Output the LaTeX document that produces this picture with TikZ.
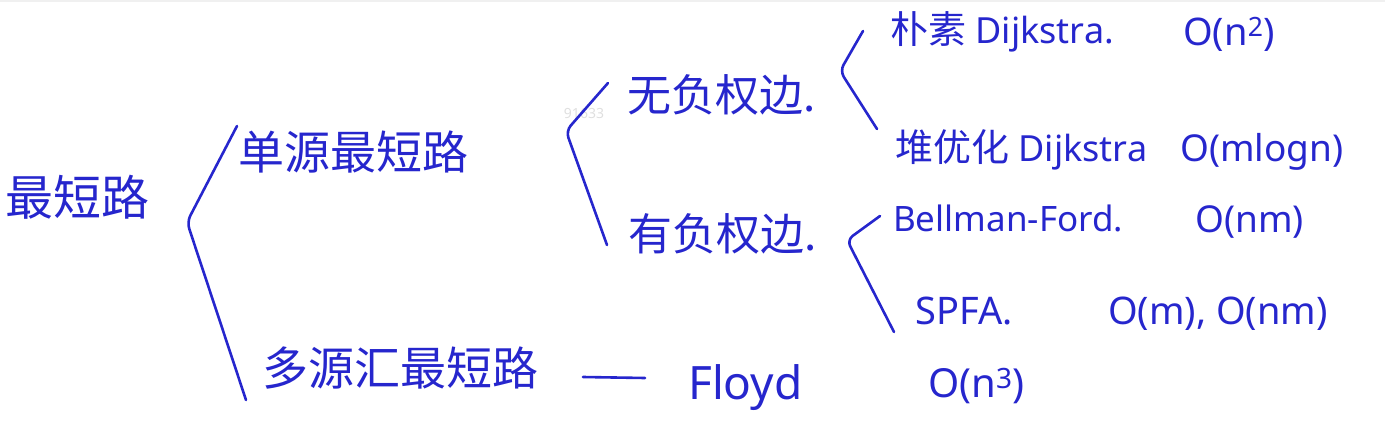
\documentclass[tikz,border=0pt]{standalone}
\usepackage{fontspec}
\setmainfont{Noto Sans}
\newfontfamily\cjk{Noto Sans CJK SC}
\definecolor{ink}{RGB}{38,38,205}
\begin{document}
\begin{tikzpicture}[x=1pt,y=-1pt,
  hand/.style={text=ink, inner sep=0pt, anchor=west},
  zh/.style={hand, font=\cjk\fontsize{46}{48}\selectfont},
  en/.style={hand, font=\fontsize{36}{38}\selectfont},
  brace/.style={draw=ink, line width=2.6pt, rounded corners=7pt, line cap=round},
  link/.style={draw=ink, line width=2.6pt, line cap=round}]
\useasboundingbox (0,0) rectangle (1385,439);
\fill[gray!12] (0,0) rectangle (1385,2);
\node[text=gray!25, font=\bfseries\fontsize{14}{14}\selectfont] (wm) at (584,114) {91633};
% texts
\node[zh, font=\cjk\fontsize{48}{50}\selectfont] (root) at (5,197) {最短路};
\node[zh] (single) at (238,152) {单源最短路};
\node[zh] (multi) at (262,368) {多源汇最短路};
\node[zh, font=\cjk\fontsize{44}{46}\selectfont] (noneg) at (627,95) {无负权边.};
\node[zh, font=\cjk\fontsize{44}{46}\selectfont] (neg) at (628,234) {有负权边.};
\node[en] (dij) at (890,32) {{\cjk\fontsize{38}{40}\selectfont 朴素} Dijkstra.};
\node[en, font=\fontsize{38}{40}\selectfont] (dijc) at (1183,34) {O(n\textsuperscript{2})};
\node[en] (hdij) at (895,150) {{\cjk\fontsize{38}{40}\selectfont 堆优化} Dijkstra};
\node[en, font=\fontsize{37}{39}\selectfont] (hdijc) at (1180,152) {O(mlogn)};
\node[en, font=\fontsize{35}{37}\selectfont] (bf) at (893,218) {Bellman-Ford.};
\node[en, font=\fontsize{37}{39}\selectfont] (bfc) at (1195,222) {O(nm)};
\node[en, font=\fontsize{38}{40}\selectfont] (spfa) at (915,311) {SPFA.};
\node[en, font=\fontsize{38}{40}\selectfont] (spfac) at (1108,314) {O(m), O(nm)};
\node[en, font=\fontsize{46}{48}\selectfont] (floyd) at (688,388) {Floyd};
\node[en, font=\fontsize{40}{42}\selectfont] (floydc) at (928,386) {O(n\textsuperscript{3})};
% brackets
\coordinate (b1t) at (237,126);
\coordinate (b1c) at (187,222);
\coordinate (b1b) at (246,400);
\draw[brace] (b1t) -- (b1c) -- (b1b);
\coordinate (b2t) at (608,83);
\coordinate (b2c) at (566,131);
\coordinate (b2b) at (607,245);
\draw[brace] (b2t) -- (b2c) -- (b2b);
\coordinate (b3t) at (863,31);
\coordinate (b3c) at (840,71);
\coordinate (b3b) at (877,129);
\draw[brace] (b3t) -- (b3c) -- (b3b);
\coordinate (b4t) at (880,216);
\coordinate (b4c) at (847,240);
\coordinate (b4b) at (894,332);
\draw[brace] (b4t) -- (b4c) -- (b4b);
% dash connector
\coordinate (dashl) at (583,377);
\coordinate (dashr) at (645,378);
\draw[link] (dashl) -- (dashr);
\end{tikzpicture}
\end{document}
